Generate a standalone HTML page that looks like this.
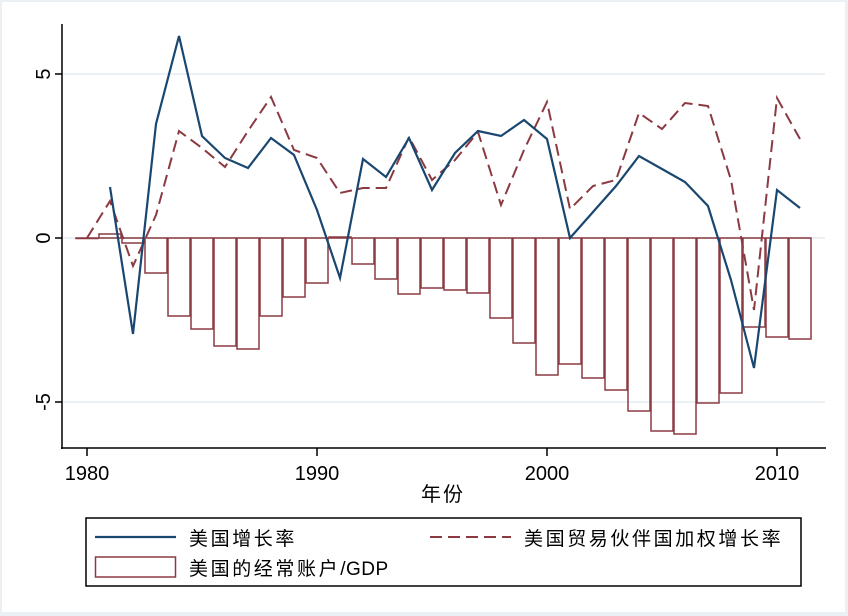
<!DOCTYPE html>
<html><head><meta charset="utf-8"><style>
html,body{margin:0;padding:0;background:#eaf0f4;}
svg{display:block;}
text{font-family:"Liberation Sans","Noto Sans CJK SC",sans-serif;fill:#000;}
</style></head><body>
<svg width="848" height="616" viewBox="0 0 848 616" xmlns="http://www.w3.org/2000/svg">
<rect x="0" y="0" width="848" height="616" fill="#eaf0f4"/>
<rect x="2" y="2" width="843" height="610" fill="#fff"/>
<g stroke="#eaf0f4" stroke-width="2">
<line x1="63" y1="74" x2="825" y2="74"/>
<line x1="63" y1="238" x2="825" y2="238"/>
<line x1="63" y1="402" x2="825" y2="402"/>
</g>
<g id="bars" fill="none" stroke="#8b3a42" stroke-width="1.5"></g>
<polyline id="red" fill="none" stroke="#8b3a42" stroke-width="2" stroke-dasharray="12,6"/>
<polyline id="blue" fill="none" stroke="#1a476f" stroke-width="2.2"/>
<g stroke="#000" stroke-width="1.5">
<line x1="62" y1="24" x2="62" y2="449"/>
<line x1="61" y1="448" x2="826" y2="448"/>
<line x1="55" y1="74" x2="62" y2="74"/>
<line x1="55" y1="238" x2="62" y2="238"/>
<line x1="55" y1="402" x2="62" y2="402"/>
<line x1="87" y1="448" x2="87" y2="456"/>
<line x1="317" y1="448" x2="317" y2="456"/>
<line x1="547" y1="448" x2="547" y2="456"/>
<line x1="777" y1="448" x2="777" y2="456"/>
</g>
<g font-size="20" text-anchor="middle">
<text transform="translate(43,74) rotate(-90)" dy="7">5</text>
<text transform="translate(43,238) rotate(-90)" dy="7">0</text>
<text transform="translate(43,402) rotate(-90)" dy="7">-5</text>
<text x="87" y="480">1980</text>
<text x="317" y="480">1990</text>
<text x="547" y="480">2000</text>
<text x="777" y="480">2010</text>
<text x="443" y="501" letter-spacing="2">年份</text>
</g>
<rect x="86" y="518" width="715" height="68" fill="#fff" stroke="#000" stroke-width="1.5"/>
<line x1="95" y1="537" x2="176" y2="537" stroke="#1a476f" stroke-width="2.2"/>
<line x1="430" y1="537" x2="511" y2="537" stroke="#8b3a42" stroke-width="2" stroke-dasharray="12,6"/>
<rect x="95.5" y="557" width="80" height="20" fill="#fff" stroke="#8b3a42" stroke-width="1.5"/>
<g font-size="19" letter-spacing="2.6">
<text x="189" y="545">美国增长率</text>
<text x="524" y="545">美国贸易伙伴国加权增长率</text>
<text x="189" y="575">美国的经常账户<tspan letter-spacing="0.5">/GDP</tspan></text>
</g>
</svg>
<script>
var bars=[238,234,243,273,316,329,346,349,316,297,283,237,264,279,294,288,290,293,318,343,375,364,378,390,411,431,434,403,393,327,337,339];
var blue=[null,187,334,124,36,136,158,168,138,155,210,278,159,177,138,190,153,131,136,120,139,238,212,186,156,169,182,206,280,368,190,208];
var red=[238,201,266,215,131,148,167,131,97,150,158,193,188,188,137,180,160,132,205,150,102,209,186,180,113,129,103,106,180,310,98,139];
var ns="http://www.w3.org/2000/svg",g=document.getElementById('bars');
function X(i){return 87+i*23;}
bars.forEach(function(b,i){var r=document.createElementNS(ns,'rect');var y=Math.min(b,238),h=Math.abs(b-238);
r.setAttribute('x',X(i)-11);r.setAttribute('y',y);r.setAttribute('width',22);r.setAttribute('height',Math.max(h,0.5));g.appendChild(r);});
var pb=[],pr=[];blue.forEach(function(v,i){if(v!==null)pb.push(X(i)+','+v);});red.forEach(function(v,i){pr.push(X(i)+','+v);});
document.getElementById('blue').setAttribute('points',pb.join(' '));
document.getElementById('red').setAttribute('points',pr.join(' '));
</script>
</body></html>
